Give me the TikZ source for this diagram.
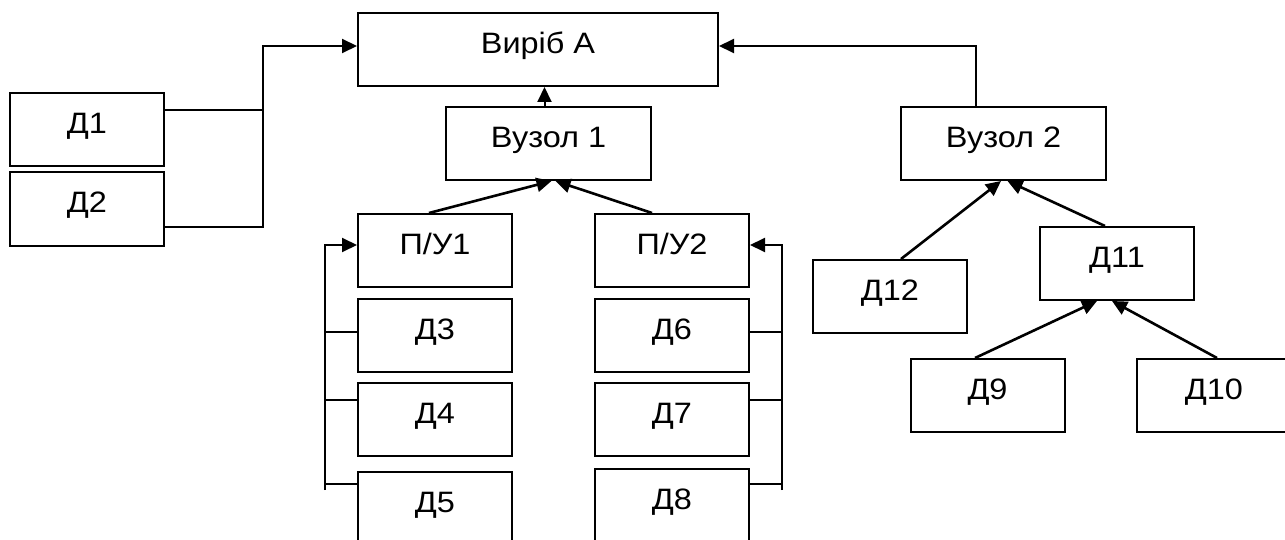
\documentclass[tikz,border=0pt]{standalone}
\usepackage{fontspec}
\setmainfont[FakeStretch=1.1]{Liberation Sans}
\usetikzlibrary{arrows.meta}

\begin{document}
\begin{tikzpicture}[
  x=1pt,
  y=-1pt,
  every node/.style={font=\fontsize{29.5}{34}\selectfont},
  unit/.style={draw, line width=2pt, minimum width=154pt, minimum height=73pt,
               inner sep=0pt, text height=20pt, text depth=12pt},
  wide/.style={unit, minimum width=205pt},
  link/.style={line width=2pt},
  feed/.style={link, -{Triangle[length=15pt, width=14pt]}},
  slant/.style={feed, line width=2.6pt}
]
  % ---- page frame ----
  \path[fill=white, use as bounding box] (0,0) rectangle (1285,540);

  % ---- product and assemblies ----
  \node[unit, minimum width=360pt] (virib) at (538,49.5) {Виріб А};
  \node[wide] (vuz1) at (548.5,143.5) {Вузол 1};
  \node[wide] (vuz2) at (1003.5,143.5) {Вузол 2};

  % ---- parts fed straight into the product ----
  \node[unit] (d1) at (87,129.5) {Д1};
  \node[unit] (d2) at (87,209) {Д2};

  % ---- two columns under assembly 1 ----
  \node[unit] (pu1) at (435,250.5) {П/У1};
  \node[unit] (d3) at (435,335) {Д3};
  \node[unit] (d4) at (435,419) {Д4};
  \node[unit] (d5) at (435,508.5) {Д5};
  \node[unit] (pu2) at (672,250.5) {П/У2};
  \node[unit] (d6) at (672,335) {Д6};
  \node[unit] (d7) at (672,419) {Д7};
  \node[unit] (d8) at (672,505.5) {Д8};

  % ---- tree under assembly 2 ----
  \node[unit] (d12) at (890,296.5) {Д12};
  \node[unit] (d11) at (1117,263.5) {Д11};
  \node[unit] (d9) at (987.5,395.5) {Д9};
  \node[unit] (d10) at (1214,395.5) {Д10};

  % ---- Д1, Д2 into the product ----
  \draw[link] ([yshift=19.5pt]d1.east) -- ++(98,0);
  \draw[feed] ([yshift=-18pt]d2.east) -- ++(98,0) |- ([yshift=3.5pt]virib.west);

  % ---- assemblies into the product ----
  \draw[feed] ([xshift=-4pt]vuz1.north) -- ([xshift=-4pt]vuz1.north |- virib.south);
  \draw[feed] ([xshift=-27.5pt]vuz2.north) |- ([yshift=3.5pt]virib.east);

  % ---- sub-assemblies into assembly 1 ----
  \draw[slant] ([xshift=-6pt]pu1.north) -- ([xshift=3pt]vuz1.south);
  \draw[slant] ([xshift=-20pt]pu2.north) -- ([xshift=7pt]vuz1.south);

  % ---- left bus: Д3, Д4, Д5 into П/У1 ----
  \draw[feed] ([xshift=-32pt,yshift=-19pt]d5.north west) |- ([yshift=5.5pt]pu1.west);
  \draw[link] ([yshift=3pt]d3.west) -- ++(-32,0);
  \draw[link] ([yshift=19pt]d4.west) -- ++(-32,0);
  \draw[link] ([yshift=24.5pt]d5.west) -- ++(-32,0);

  % ---- right bus: Д6, Д7, Д8 into П/У2 ----
  \draw[feed] ([xshift=32pt,yshift=-22pt]d8.north east) |- ([yshift=5.5pt]pu2.east);
  \draw[link] ([yshift=3pt]d6.east) -- ++(32,0);
  \draw[link] ([yshift=19pt]d7.east) -- ++(32,0);
  \draw[link] ([yshift=21.5pt]d8.east) -- ++(32,0);

  % ---- tree arrows ----
  \draw[slant] ([xshift=11pt]d12.north) -- ([xshift=-2.5pt]vuz2.south);
  \draw[slant] ([xshift=-12pt]d11.north) -- ([xshift=4pt]vuz2.south);
  \draw[slant] ([xshift=-12.5pt]d9.north) -- ([xshift=-20pt]d11.south);
  \draw[slant] ([xshift=3pt]d10.north) -- ([xshift=-5pt]d11.south);
\end{tikzpicture}
\end{document}
